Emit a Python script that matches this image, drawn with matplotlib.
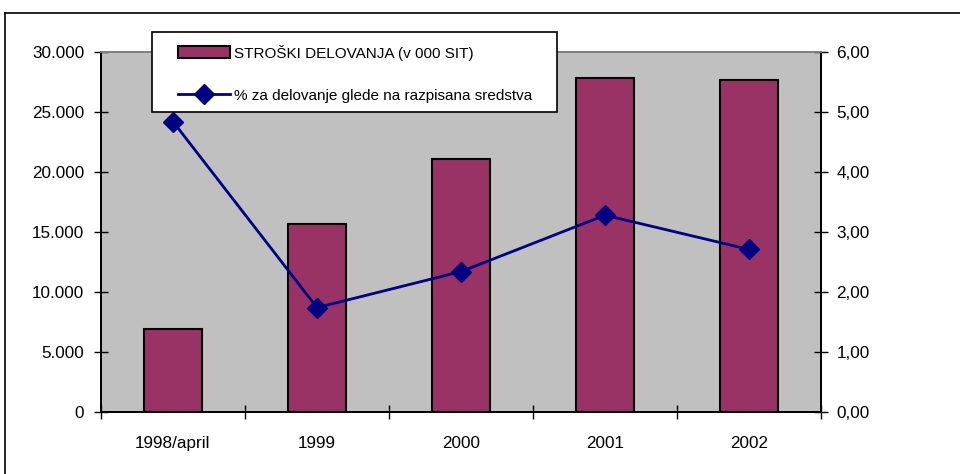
import numpy as np
import matplotlib
matplotlib.use('Agg')
import matplotlib.pyplot as plt
from matplotlib.patches import Rectangle
from matplotlib.lines import Line2D
from matplotlib.ticker import FuncFormatter

plt.rcParams['font.family'] = ['Liberation Sans', 'DejaVu Sans']

years = ['1998/april', '1999', '2000', '2001', '2002']
stroski = [6900, 15650, 21060, 27860, 27640]          # v 000 SIT
odstotek = [4.84, 1.74, 2.34, 3.28, 2.71]               # % za delovanje
bar_label = 'STROŠKI DELOVANJA (v 000 SIT)'
line_label = '% za delovanje glede na razpisana sredstva'

W, H = 960, 474
fig = plt.figure(figsize=(W/100, H/100), dpi=100)
ax = fig.add_axes([101/W, 1 - 412/H, 720/W, 360/H])
ax2 = ax.twinx()

fs = 12.3
fs_leg = 11.0
x = np.arange(len(years)) + 0.5

ax.set_facecolor('#C0C0C0')
bars = ax.bar(x, stroski, width=0.40, color='#993366', edgecolor='black', lw=1.5, zorder=3)
ln, = ax2.plot(x, odstotek, color='#000080', lw=2, marker='D', ms=10, zorder=4)

ax.set_xlim(0, 5)
ax.set_ylim(0, 30000)
ax2.set_ylim(0, 6)
ax.set_yticks(np.arange(0, 30001, 5000))
ax2.set_yticks(np.arange(0, 6.01, 1))
ax.yaxis.set_major_formatter(FuncFormatter(lambda v, p: f'{int(v):,}'.replace(',', '.')))
ax2.yaxis.set_major_formatter(FuncFormatter(lambda v, p: f'{v:.2f}'.replace('.', ',')))

ax.set_xticks(np.arange(0, 6))
ax.set_xticklabels([])
ax.set_xticks(x, minor=True)
ax.set_xticklabels(years, minor=True)
ax.tick_params(axis='x', which='major', direction='inout', length=10, width=1, color='black')
ax.tick_params(axis='x', which='minor', length=0, pad=17, labelsize=fs)
ax.tick_params(axis='y', direction='inout', length=10, width=1, pad=7, labelsize=fs)
ax2.tick_params(axis='y', direction='inout', length=10, width=1, pad=6, labelsize=fs)

for a in (ax, ax2):
    for s in ('left', 'right', 'bottom'):
        a.spines[s].set_color('black')
        a.spines[s].set_linewidth(1.3)
    a.spines['top'].set_color('#808080')
    a.spines['top'].set_linewidth(1.3)

# outer chart border (left and top edges visible)
fig.add_artist(Line2D([5/W, 5/W], [0, 1 - 13/H], transform=fig.transFigure, color='black', lw=1.2))
fig.add_artist(Line2D([5/W, 1], [1 - 13/H, 1 - 13/H], transform=fig.transFigure, color='black', lw=1.2))

# legend box
fig.add_artist(Rectangle((152/W, 1 - 112/H), 405/W, 80/H, transform=fig.transFigure,
                         facecolor='white', edgecolor='black', lw=1.2, zorder=5))
leg = fig.legend([bars, ln], [bar_label, line_label], loc='upper left',
                 bbox_to_anchor=(170/W, 1 - 37/H), frameon=False, fontsize=fs_leg,
                 handlelength=3.4, handleheight=0.8, handletextpad=0.3,
                 labelspacing=1.85, borderpad=0.0, numpoints=1)
leg.set_zorder(6)

fig.savefig('out.png', dpi=100)
